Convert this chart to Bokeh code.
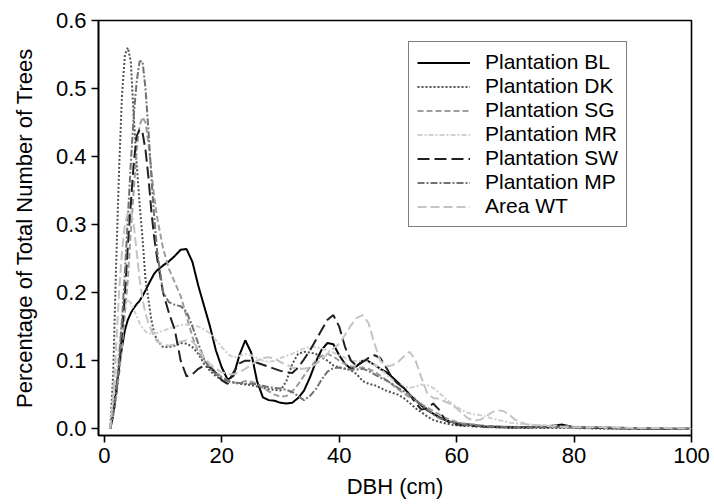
from bokeh.plotting import figure
from bokeh.models import Range1d, FixedTicker, PrintfTickFormatter, Legend, LegendItem
from bokeh.embed import file_html
from bokeh.resources import INLINE

# ---- data ----
DBH = [1, 1.5, 2, 2.5, 3, 3.5, 4, 4.5, 5, 5.5, 6, 6.5, 7, 7.5, 8, 8.5, 9,
       10, 11, 12, 13, 14, 15, 16, 17, 18, 19, 20, 21, 22, 23, 24, 25, 26, 27, 28, 29,
       30, 31, 32, 33, 34, 35, 36, 37, 38, 39, 40, 41, 42, 43, 44, 45, 46, 47, 48, 49,
       50, 51, 52, 53, 54, 55, 56, 57, 58, 59, 60, 61, 62, 63, 64, 65, 66, 67, 68, 69, 70,
       72, 75, 78, 80, 85, 90, 95, 100]

BL = [0.0, 0.03, 0.06, 0.09, 0.12, 0.145, 0.16, 0.17, 0.177, 0.183, 0.188, 0.195, 0.203, 0.212, 0.22, 0.228, 0.233,
      0.24, 0.246, 0.254, 0.263, 0.264, 0.245, 0.21, 0.18, 0.15, 0.115, 0.09, 0.072, 0.078, 0.108, 0.13, 0.112, 0.07, 0.046, 0.042, 0.041,
      0.038, 0.037, 0.038, 0.045, 0.056, 0.075, 0.098, 0.116, 0.126, 0.124, 0.108, 0.095, 0.088, 0.092, 0.1, 0.099, 0.094, 0.088, 0.083, 0.076,
      0.068, 0.06, 0.05, 0.042, 0.034, 0.027, 0.022, 0.017, 0.013, 0.01, 0.008, 0.007, 0.006, 0.005, 0.004, 0.003, 0.003, 0.002, 0.002, 0.002, 0.002,
      0.002, 0.003, 0.006, 0.002, 0.001, 0.0, 0.0, 0.0]

DK = [0.0, 0.08, 0.24, 0.38, 0.49, 0.55, 0.56, 0.54, 0.46, 0.39, 0.33, 0.28, 0.22, 0.19, 0.16, 0.14, 0.13,
      0.12, 0.12, 0.122, 0.126, 0.125, 0.12, 0.11, 0.095, 0.085, 0.077, 0.072, 0.07, 0.068, 0.066, 0.065, 0.064, 0.062, 0.06, 0.058, 0.057,
      0.056, 0.07, 0.095, 0.11, 0.113, 0.112, 0.11, 0.105, 0.1, 0.093, 0.09, 0.088, 0.086, 0.08, 0.07, 0.066, 0.064, 0.06, 0.056, 0.053,
      0.05, 0.045, 0.038, 0.03, 0.024, 0.018, 0.013, 0.01, 0.008, 0.006, 0.005, 0.004, 0.004, 0.003, 0.003, 0.002, 0.002, 0.002, 0.002, 0.001, 0.001,
      0.001, 0.001, 0.001, 0.001, 0.0, 0.0, 0.0, 0.0]

SG = [0.0, 0.02, 0.05, 0.08, 0.12, 0.17, 0.22, 0.29, 0.35, 0.41, 0.445, 0.458, 0.45, 0.42, 0.38, 0.34, 0.31,
      0.265, 0.235, 0.215, 0.195, 0.165, 0.135, 0.112, 0.1, 0.092, 0.083, 0.076, 0.071, 0.068, 0.067, 0.07, 0.069, 0.066, 0.06, 0.055, 0.05,
      0.047, 0.048, 0.055, 0.065, 0.078, 0.09, 0.1, 0.107, 0.11, 0.106, 0.1, 0.095, 0.092, 0.09, 0.09, 0.088, 0.084, 0.078, 0.072, 0.065,
      0.058, 0.052, 0.046, 0.041, 0.036, 0.031, 0.026, 0.021, 0.016, 0.013, 0.01, 0.008, 0.007, 0.006, 0.005, 0.004, 0.004, 0.003, 0.003, 0.003, 0.003,
      0.002, 0.002, 0.002, 0.001, 0.001, 0.0, 0.0, 0.0]

MR = [0.0, 0.04, 0.08, 0.12, 0.16, 0.18, 0.19, 0.185, 0.175, 0.165, 0.155, 0.148, 0.143, 0.14, 0.14, 0.14, 0.141,
      0.144, 0.147, 0.15, 0.152, 0.153, 0.152, 0.15, 0.146, 0.14, 0.13, 0.12, 0.11, 0.105, 0.107, 0.11, 0.108, 0.104, 0.1, 0.098, 0.1,
      0.104, 0.107, 0.11, 0.114, 0.118, 0.12, 0.12, 0.118, 0.115, 0.112, 0.108, 0.104, 0.1, 0.099, 0.1, 0.098, 0.094, 0.088, 0.08, 0.072,
      0.066, 0.062, 0.06, 0.062, 0.065, 0.064, 0.06, 0.053, 0.045, 0.038, 0.032, 0.027, 0.023, 0.021, 0.02, 0.018, 0.015, 0.013, 0.011, 0.009, 0.008,
      0.006, 0.005, 0.004, 0.003, 0.002, 0.001, 0.001, 0.0]

SW = [0.0, 0.02, 0.05, 0.09, 0.14, 0.2, 0.27, 0.33, 0.39, 0.43, 0.44, 0.435, 0.41, 0.37, 0.32, 0.28, 0.25,
      0.2, 0.17, 0.145, 0.1, 0.077, 0.08, 0.088, 0.093, 0.09, 0.082, 0.071, 0.066, 0.083, 0.096, 0.1, 0.1, 0.097, 0.094, 0.091, 0.088,
      0.085, 0.083, 0.082, 0.09, 0.102, 0.115, 0.13, 0.145, 0.16, 0.167, 0.15, 0.12, 0.1, 0.092, 0.098, 0.104, 0.108, 0.104, 0.09, 0.075,
      0.066, 0.06, 0.05, 0.038, 0.028, 0.03, 0.037, 0.028, 0.013, 0.008, 0.006, 0.005, 0.005, 0.004, 0.004, 0.003, 0.003, 0.003, 0.003, 0.002, 0.002,
      0.002, 0.002, 0.004, 0.002, 0.001, 0.001, 0.0, 0.0]

MP = [0.0, 0.02, 0.05, 0.1, 0.16, 0.23, 0.31, 0.39, 0.46, 0.51, 0.54, 0.54, 0.5, 0.44, 0.37, 0.31, 0.26,
      0.2, 0.186, 0.182, 0.18, 0.172, 0.15, 0.125, 0.102, 0.088, 0.08, 0.075, 0.07, 0.068, 0.067, 0.066, 0.066, 0.065, 0.063, 0.061, 0.06,
      0.059, 0.057, 0.054, 0.048, 0.042, 0.048, 0.058, 0.072, 0.084, 0.089, 0.09, 0.088, 0.087, 0.087, 0.088, 0.085, 0.08, 0.075, 0.071, 0.066,
      0.06, 0.055, 0.05, 0.043, 0.035, 0.028, 0.021, 0.016, 0.012, 0.01, 0.008, 0.006, 0.005, 0.005, 0.004, 0.003, 0.003, 0.003, 0.003, 0.002, 0.002,
      0.002, 0.002, 0.002, 0.002, 0.002, 0.001, 0.0, 0.0]

WT = [0.0, 0.05, 0.12, 0.2, 0.26, 0.3, 0.318, 0.32, 0.3, 0.26, 0.22, 0.19, 0.17, 0.155, 0.145, 0.135, 0.128,
      0.124, 0.122, 0.124, 0.128, 0.13, 0.128, 0.118, 0.105, 0.095, 0.088, 0.083, 0.08, 0.08, 0.083, 0.088, 0.094, 0.1, 0.104, 0.105, 0.103,
      0.098, 0.094, 0.09, 0.088, 0.088, 0.09, 0.095, 0.102, 0.11, 0.118, 0.125, 0.138, 0.152, 0.163, 0.167, 0.155, 0.125, 0.1, 0.092, 0.093,
      0.098, 0.106, 0.113, 0.1, 0.075, 0.052, 0.045, 0.044, 0.04, 0.036, 0.03, 0.022, 0.015, 0.012, 0.013, 0.018, 0.024, 0.027, 0.026, 0.02, 0.013,
      0.006, 0.004, 0.003, 0.002, 0.002, 0.001, 0.001, 0.0]

SERIES_NAMES = ["Plantation BL", "Plantation DK", "Plantation SG", "Plantation MR",
                "Plantation SW", "Plantation MP", "Area WT"]
X_TICKS = [0, 20, 40, 60, 80, 100]
Y_TICKS = [0.0, 0.1, 0.2, 0.3, 0.4, 0.5, 0.6]

# ---- styles ----
styles = [
    dict(color="#000000", dash="solid", width=2.0),
    dict(color="#505050", dash="2 2", width=2.0),
    dict(color="#9e9e9e", dash="6 3", width=2.0),
    dict(color="#d0d0d0", dash="5 2 2 2", width=2.0),
    dict(color="#202020", dash="12 5", width=2.0),
    dict(color="#727272", dash="7 2 2 2", width=2.0),
    dict(color="#c4c4c4", dash="9 4", width=2.0),
]

FONT = "Liberation Sans"

p = figure(width=714, height=504, output_backend="svg", toolbar_location=None,
           x_range=Range1d(-1, 100), y_range=Range1d(-0.01, 0.6),
           min_border_left=98, min_border_right=23, min_border_top=20, min_border_bottom=69)

p.xgrid.visible = False
p.ygrid.visible = False
p.outline_line_color = "black"
p.outline_line_width = 1.6
p.background_fill_color = "white"
p.border_fill_color = "white"

items = []
for name, ys, st in zip(SERIES_NAMES, [BL, DK, SG, MR, SW, MP, WT], styles):
    r = p.line(DBH, ys, line_color=st["color"], line_dash=st["dash"], line_width=st["width"])
    items.append(LegendItem(label=name, renderers=[r]))

for ax in (p.xaxis[0], p.yaxis[0]):
    ax.axis_line_color = "black"
    ax.axis_line_width = 1.6
    ax.major_tick_line_color = "black"
    ax.major_tick_line_width = 1.6
    ax.major_tick_out = 7
    ax.major_tick_in = 0
    ax.minor_tick_line_color = None
    ax.major_label_text_font = FONT
    ax.major_label_text_font_size = "22px"
    ax.major_label_text_color = "black"
    ax.axis_label_text_font = FONT
    ax.axis_label_text_font_size = "22px"
    ax.axis_label_text_font_style = "normal"
    ax.axis_label_text_color = "black"

p.xaxis.ticker = FixedTicker(ticks=X_TICKS)
p.yaxis.ticker = FixedTicker(ticks=Y_TICKS)
p.yaxis.formatter = PrintfTickFormatter(format="%.1f")
p.xaxis.axis_label = "DBH (cm)"
p.yaxis.axis_label = "Percentage of Total Number of Trees"
p.xaxis.major_label_standoff = 5
p.yaxis.major_label_standoff = 5
p.xaxis.axis_label_standoff = 8
p.yaxis.axis_label_standoff = 16

legend = Legend(items=items, location=(310, 208))
legend.label_text_font = FONT
legend.label_text_font_size = "21px"
legend.label_text_color = "black"
legend.glyph_width = 53
legend.glyph_height = 19
legend.label_height = 19
legend.label_standoff = 15
legend.spacing = 0
legend.padding = 8
legend.margin = 0
legend.border_line_color = "black"
legend.border_line_width = 1.5
legend.background_fill_color = "white"
legend.background_fill_alpha = 1.0
p.add_layout(legend, "center")

open("out.html", "w").write(file_html(p, INLINE))
